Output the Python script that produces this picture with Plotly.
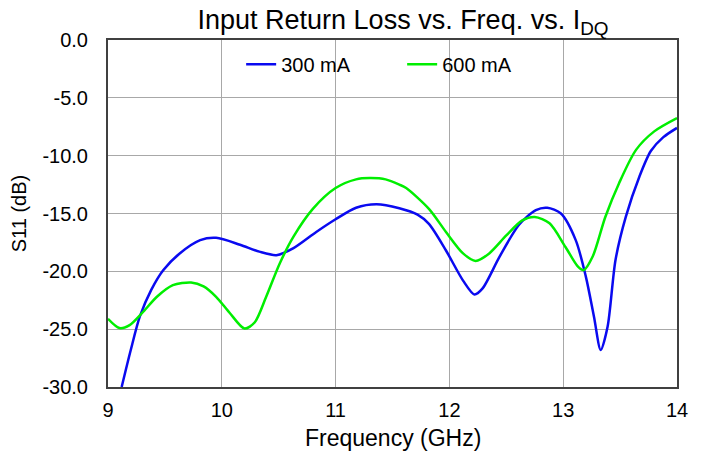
import plotly.graph_objects as go

freq_300 = [9.12, 9.20, 9.28, 9.38, 9.485, 9.63, 9.81, 9.95, 10.16, 10.33, 10.48, 10.63,
            10.83, 11.0, 11.18, 11.36, 11.56, 11.72, 11.82, 11.97, 12.12, 12.22, 12.29,
            12.44, 12.61, 12.76, 12.86, 12.98, 13.11, 13.20, 13.27, 13.33, 13.39, 13.46,
            13.55, 13.67, 13.77, 13.88, 14.0]
s11_300 = [-30.0, -26.8, -23.9, -21.6, -19.9, -18.45, -17.3, -17.1, -17.7, -18.3, -18.6, -18.0,
           -16.6, -15.5, -14.5, -14.2, -14.55, -15.1, -15.9, -18.2, -20.8, -22.0, -21.5,
           -18.75, -16.0, -14.7, -14.5, -15.0, -17.3, -20.5, -23.9, -26.8, -24.8, -19.0,
           -15.3, -11.8, -9.6, -8.4, -7.6]

freq_600 = [9.0, 9.1, 9.19, 9.30, 9.43, 9.57, 9.73, 9.84, 9.95, 10.07, 10.20, 10.29, 10.39,
            10.51, 10.63, 10.80, 11.0, 11.18, 11.30, 11.44, 11.56, 11.62, 11.82, 11.97,
            12.12, 12.23, 12.35, 12.50, 12.64, 12.75, 12.88, 13.02, 13.13, 13.18, 13.26,
            13.37, 13.49, 13.64, 13.80, 14.0]
s11_600 = [-24.1, -24.9, -24.65, -23.6, -22.2, -21.2, -20.96, -21.3, -22.2, -23.6, -24.95, -24.4,
           -22.2, -19.3, -17.0, -14.6, -12.8, -12.05, -11.94, -12.05, -12.5, -12.8, -14.6, -16.6,
           -18.45, -19.1, -18.45, -16.9, -15.6, -15.3, -15.85, -17.9, -19.6, -19.9, -18.7,
           -15.3, -12.4, -9.5, -7.9, -6.75]

x_ticks = [9, 10, 11, 12, 13, 14]
y_ticks = [0, -5, -10, -15, -20, -25, -30]
y_tick_labels = ["0.0", "-5.0", "-10.0", "-15.0", "-20.0", "-25.0", "-30.0"]

font = "Liberation Sans, Arial, sans-serif"

fig = go.Figure()
fig.add_trace(go.Scatter(x=freq_300, y=s11_300, mode="lines", name="300 mA",
                         line=dict(color="#0a0af0", width=2.5, shape="spline", smoothing=0.8)))
fig.add_trace(go.Scatter(x=freq_600, y=s11_600, mode="lines", name="600 mA",
                         line=dict(color="#00ee00", width=2.5, shape="spline", smoothing=0.8)))

W, H = 686, 444
fig.update_layout(
    width=W, height=H,
    margin=dict(l=100, r=17, t=32, b=65, autoexpand=False),
    paper_bgcolor="white", plot_bgcolor="white",
    font=dict(family=font, size=20, color="black"),
    title=dict(text="Input Return Loss vs. Freq. vs. I<sub>DQ</sub>", x=395 / W, xanchor="center",
               y=1 - 2 / H, yanchor="top", font=dict(size=27, family=font)),
    legend=dict(orientation="h", x=0.234, xanchor="left", y=0.93, yanchor="middle",
                bgcolor="rgba(0,0,0,0)", font=dict(size=20, family=font),
                entrywidth=116, entrywidthmode="pixels", tracegroupgap=0),
    showlegend=True,
    annotations=[dict(text="Frequency (GHz)", xref="paper", yref="paper", x=0.5, y=-51 / 347,
                      xanchor="center", yanchor="middle", showarrow=False,
                      font=dict(size=23, family=font))],
)
fig.update_xaxes(range=[9, 14], tickvals=x_ticks, ticktext=[str(v) for v in x_ticks],
                 showgrid=True, gridcolor="#a8a8a8", gridwidth=1,
                 showline=True, linecolor="#404040", linewidth=2, mirror=True,
                 ticks="", zeroline=False, automargin=False, ticklabelstandoff=4)
fig.update_yaxes(range=[-30, 0], tickvals=y_ticks, ticktext=y_tick_labels,
                 showgrid=True, gridcolor="#a8a8a8", gridwidth=1,
                 showline=True, linecolor="#404040", linewidth=2, mirror=True,
                 ticks="", zeroline=False, automargin=False, ticklabelstandoff=14,
                 title=dict(text="S11 (dB)", font=dict(size=20), standoff=10))

fig.write_html("out.html")
